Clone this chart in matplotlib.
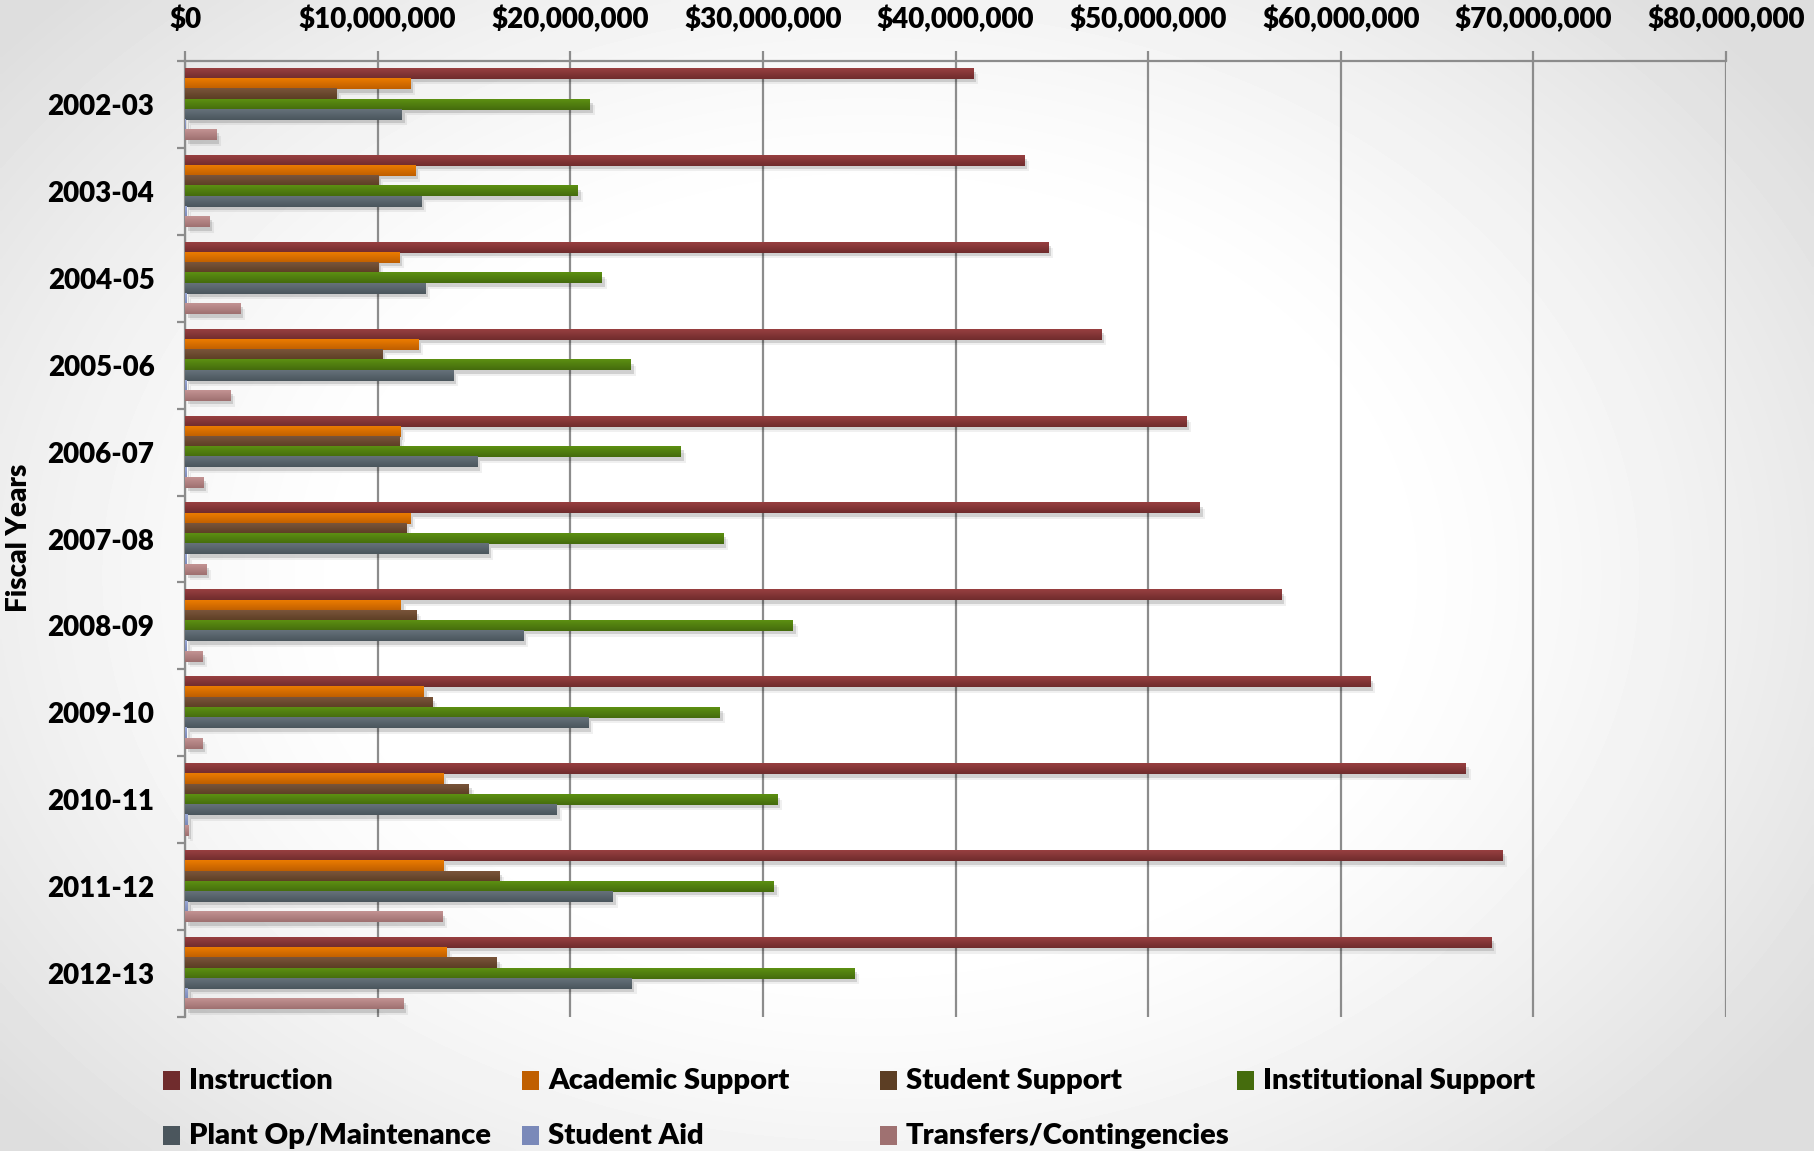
import numpy as np
import matplotlib.pyplot as plt
import matplotlib.patheffects as pe
from matplotlib.colors import LinearSegmentedColormap, to_rgb
from matplotlib.patches import Rectangle
from matplotlib.ticker import FuncFormatter, MultipleLocator

plt.rcParams['font.family'] = ['Lato', 'DejaVu Sans']
WEIGHT = 'heavy'

# values, in millions of dollars
years = ['2002-03', '2003-04', '2004-05', '2005-06', '2006-07', '2007-08',
         '2008-09', '2009-10', '2010-11', '2011-12', '2012-13']
instruction = [40.93, 43.57, 44.81, 47.57, 51.98, 52.69, 56.90, 61.52, 66.50, 68.40, 67.83]
academic_support = [11.69, 11.95, 11.12, 12.10, 11.17, 11.69, 11.21, 12.40, 13.40, 13.40, 13.60]
student_support = [7.86, 10.02, 10.02, 10.24, 11.12, 11.48, 12.00, 12.83, 14.74, 16.31, 16.19]
institutional_support = [21.02, 20.40, 21.64, 23.14, 25.74, 27.93, 31.55, 27.76, 30.76, 30.57, 34.76]
plant_op = [11.26, 12.26, 12.48, 13.93, 15.17, 15.74, 17.55, 20.93, 19.31, 22.21, 23.19]
student_aid = [0.05, 0.06, 0.06, 0.07, 0.08, 0.10, 0.10, 0.10, 0.15, 0.15, 0.15]
transfers = [1.62, 1.26, 2.88, 2.36, 0.95, 1.12, 0.90, 0.90, 0.17, 13.36, 11.33]

series_names = ['Instruction', 'Academic Support', 'Student Support', 'Institutional Support',
                'Plant Op/Maintenance', 'Student Aid', 'Transfers/Contingencies']
series_values = [instruction, academic_support, student_support, institutional_support,
                 plant_op, student_aid, transfers]
# (top colour, bottom colour) of each bar gradient
series_colors = [('#973f40', '#702c2d'), ('#ea7b00', '#c05f00'), ('#79543a', '#5c3e24'),
                 ('#5c8f12', '#456c0d'), ('#65717a', '#4b565d'), ('#97a5d2', '#7a89b9'),
                 ('#c29292', '#9f7171')]

W, H = 1814, 1151
GRID = '#8c8c8c'


def add_background(fig):
    # soft radial fade from white in the middle to light gray at the edges
    bg = fig.add_axes([0, 0, 1, 1], zorder=-10)
    yy, xx = np.mgrid[0:1:300j, 0:1:470j]
    r = np.sqrt(((xx - 0.48) / 0.62) ** 2 + ((yy - 0.5) / 0.72) ** 2)
    shade = 1.0 - 0.13 * np.clip((r - 0.45) / 0.55, 0, 1) ** 1.3
    bg.imshow(shade, cmap='gray', vmin=0, vmax=1, aspect='auto', extent=[0, 1, 0, 1],
              interpolation='bilinear')
    bg.set_axis_off()
    return bg


def draw_bars(ax):
    n = len(series_names)
    h = 1.0 / (n + 1.5)
    ypos = np.arange(len(years))
    for i, (name, vals, cols) in enumerate(zip(series_names, series_values, series_colors)):
        offs = -0.5 + 0.75 * h + (i + 0.5) * h
        bars = ax.barh(ypos + offs, vals, height=h, color=cols[1], linewidth=0, zorder=2.9,
                       label=name)
        cm = LinearSegmentedColormap.from_list(name, [to_rgb(cols[0]), to_rgb(cols[1])])
        grad = np.linspace(0, 1, 16).reshape(-1, 1)
        for b in bars:
            b.set_path_effects([pe.SimplePatchShadow(offset=(2, -2.5), shadow_rgbFace='k',
                                                     alpha=0.13),
                                pe.SimplePatchShadow(offset=(3.5, -4), shadow_rgbFace='k',
                                                     alpha=0.06), pe.Normal()])
            x0, y0 = b.get_x(), b.get_y()
            ax.imshow(grad, cmap=cm, aspect='auto', interpolation='bilinear', zorder=3,
                      extent=[x0, x0 + b.get_width(), y0 + b.get_height(), y0])
    return ax


def style_axes(ax):
    ax.set_xlim(0, 80)
    ax.set_ylim(len(years) - 0.5, -0.5)
    ax.set_facecolor('none')
    ax.set_axisbelow(True)
    ax.grid(axis='x', color=GRID, linewidth=1.6)
    ax.xaxis.set_major_locator(MultipleLocator(10))
    ax.xaxis.set_major_formatter(FuncFormatter(lambda v, p: f'${v * 1e6:,.0f}'))
    ax.tick_params(axis='x', top=True, bottom=False, labeltop=True, labelbottom=False,
                   length=7, width=1.6, color=GRID, pad=13, labelsize=20)
    ax.set_yticks(np.arange(len(years)))
    ax.set_yticklabels(years)
    ax.set_yticks(np.arange(len(years) + 1) - 0.5, minor=True)
    ax.tick_params(axis='y', which='major', length=0, pad=22, labelsize=20)
    ax.tick_params(axis='y', which='minor', length=6, width=1.6, color=GRID)
    for s in ['bottom', 'right']:
        ax.spines[s].set_visible(False)
    for s in ['top', 'left']:
        ax.spines[s].set_color(GRID)
        ax.spines[s].set_linewidth(1.6)
    for lab in ax.get_xticklabels() + ax.get_yticklabels():
        lab.set_fontweight(WEIGHT)
    return ax


def add_legend(fig):
    # two rows laid out like the original chart: four columns on top, three below
    col_x = [163, 522, 880, 1237]
    row_y = [1081, 1136]
    for i, (name, cols) in enumerate(zip(series_names, series_colors)):
        r, c = divmod(i, 4)
        x, y = col_x[c], row_y[r]
        fig.add_artist(Rectangle((x / W, 1 - (y + 9) / H), 17 / W, 19 / H,
                                 transform=fig.transFigure, facecolor=cols[1], edgecolor='none'))
        fig.text((x + 26) / W, 1 - y / H, name, fontsize=21, fontweight=WEIGHT,
                 va='center', ha='left')


fig = plt.figure(figsize=(W / 100, H / 100), dpi=100)
add_background(fig)
ax = fig.add_axes([185 / W, 1 - 1017 / H, (1726 - 185) / W, (1017 - 61) / H])
draw_bars(ax)
style_axes(ax)
fig.text(19 / W, 1 - 538 / H, 'Fiscal Years', rotation=90, fontsize=20, fontweight=WEIGHT,
         ha='center', va='center')
add_legend(fig)
fig.savefig('out.png', dpi=100)
